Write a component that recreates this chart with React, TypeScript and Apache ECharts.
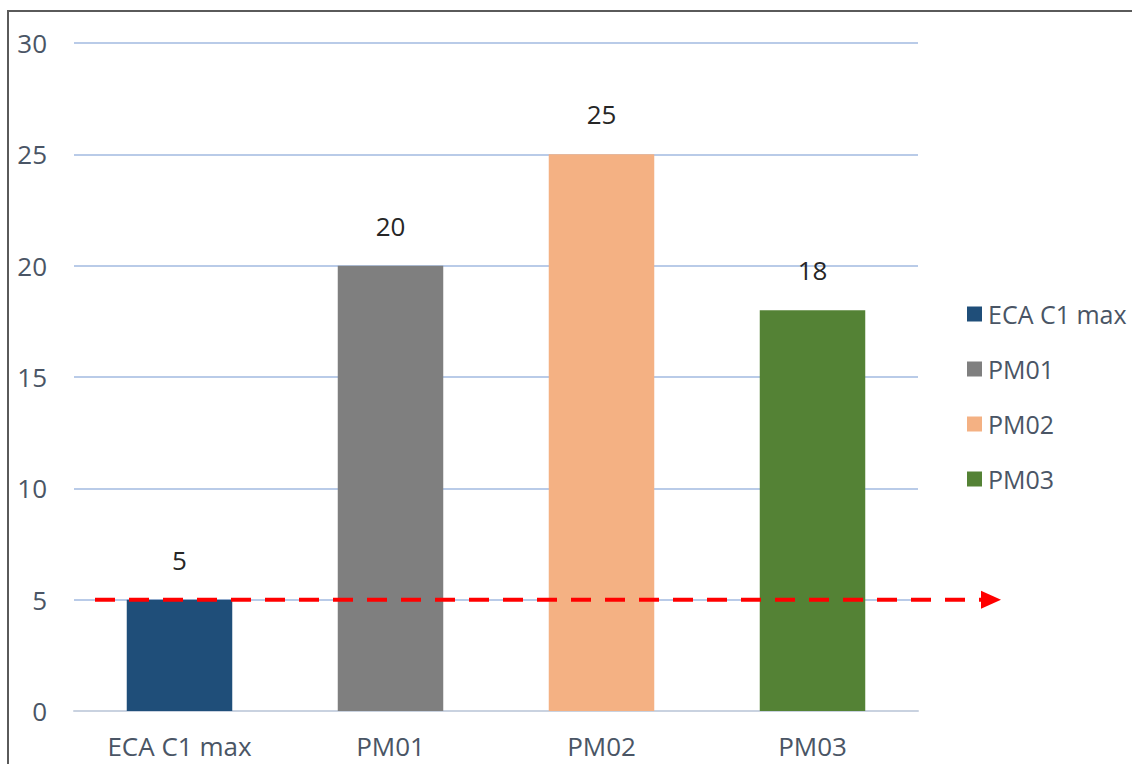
import React, { useEffect, useRef } from 'react';
import * as echarts from 'echarts';

// Chart data
const categories = ['ECA C1 max', 'PM01', 'PM02', 'PM03'];
const values = [5, 20, 25, 18];
const barColors = ['#1f4e79', '#7f7f7f', '#f4b183', '#548235'];
const yMin = 0;
const yMax = 30;
const yStep = 5;
const thresholdValue = 5;

const FONT = '"Open Sans", "DejaVu Sans", sans-serif';
const AXIS_TEXT = '#4a5565';

export default function App() {
  const ref = useRef<HTMLDivElement>(null);

  useEffect(() => {
    if (!ref.current) return;
    const chart = echarts.init(ref.current, undefined, { renderer: 'svg' });

    // One series per category, stacked so each bar sits centred in its own slot
    const series = categories.map((name, i) => ({
      name,
      type: 'bar' as const,
      stack: 'all',
      barWidth: '50%',
      itemStyle: { color: barColors[i] },
      label: {
        show: true,
        position: 'top' as const,
        distance: 27,
        fontFamily: FONT,
        fontSize: 26,
        color: '#262626',
      },
      data: values.map((v, j) => (j === i ? v : '-')),
    }));

    chart.setOption({
      animation: false,
      backgroundColor: '#ffffff',
      grid: { left: 74, right: 214, top: 43, bottom: 53 },
      legend: {
        orient: 'vertical',
        left: 962,
        top: 296,
        itemWidth: 15,
        itemHeight: 15,
        itemGap: 29,
        icon: 'rect',
        textStyle: {
          fontFamily: FONT,
          fontSize: 25,
          lineHeight: 26,
          color: AXIS_TEXT,
          padding: [0, 0, 0, 1],
        },
        data: categories,
      },
      xAxis: {
        type: 'category',
        data: categories,
        axisLine: { lineStyle: { color: '#c9d2e0', width: 2 } },
        axisTick: { show: false },
        axisLabel: {
          margin: 22,
          fontFamily: FONT,
          fontSize: 26,
          color: AXIS_TEXT,
        },
      },
      yAxis: {
        type: 'value',
        min: yMin,
        max: yMax,
        interval: yStep,
        axisLine: { show: false },
        axisTick: { show: false },
        splitLine: { lineStyle: { color: '#b9cbe8', width: 2 } },
        axisLabel: {
          margin: 27,
          fontFamily: FONT,
          fontSize: 26,
          color: AXIS_TEXT,
        },
      },
      series,
    });

    // Threshold arrow drawn at the pixel row of the threshold value
    const yPix = chart.convertToPixel({ yAxisIndex: 0 }, thresholdValue) as number;
    chart.setOption({
      graphic: [
        {
          type: 'rect',
          silent: true,
          shape: { x: 8, y: 11, width: 1300, height: 900 },
          style: { fill: 'none', stroke: '#5a5a5a', lineWidth: 2 },
          z: 100,
        },
        {
          type: 'line',
          silent: true,
          shape: { x1: 95, y1: yPix, x2: 983, y2: yPix },
          style: { stroke: '#ff0000', lineWidth: 4, lineDash: [20, 14] },
          z: 100,
        },
        {
          type: 'polygon',
          silent: true,
          shape: { points: [[981, yPix - 9], [1001, yPix], [981, yPix + 9]] },
          style: { fill: '#ff0000' },
          z: 100,
        },
      ],
    });

    return () => chart.dispose();
  }, []);

  return (
    <div
      ref={ref}
      style={{ position: 'absolute', left: 0, top: 0, width: 1132, height: 764 }}
    />
  );
}
